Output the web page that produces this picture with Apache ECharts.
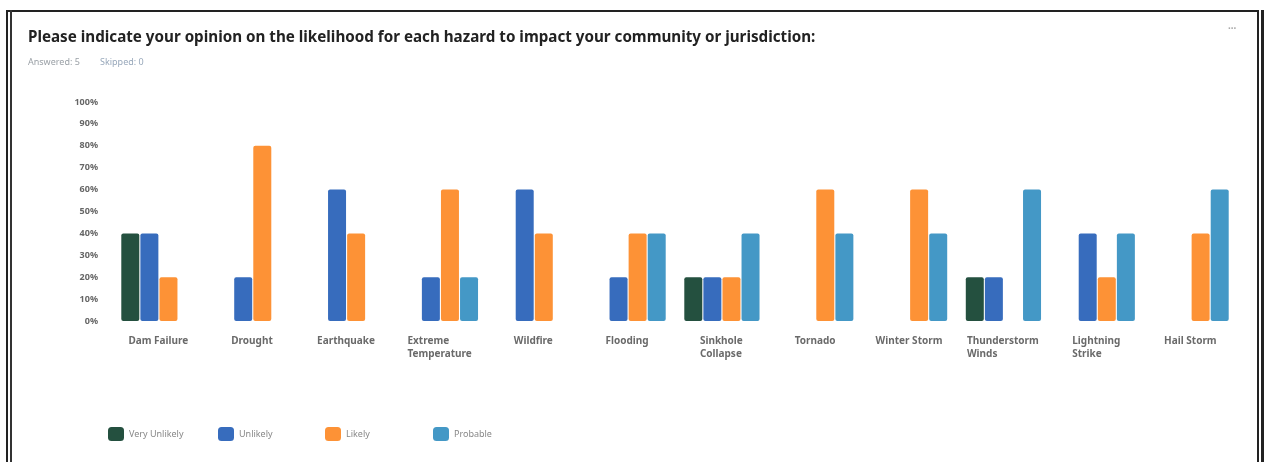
<!DOCTYPE html>
<html>
<head>
<meta charset="utf-8">
<script src="https://cdn.jsdelivr.net/npm/echarts@6/dist/echarts.min.js"></script>
<style>
html,body{margin:0;padding:0;background:#fff;}
#chart{width:1265px;height:462px;}
</style>
</head>
<body>
<div id="chart"></div>
<script>
const titleText = 'Please indicate your opinion on the likelihood for each hazard to impact your community or jurisdiction:';
const answeredText = 'Answered: 5';
const skippedText = 'Skipped: 0';
const categories = ['Dam Failure', 'Drought', 'Earthquake', 'Extreme\nTemperature', 'Wildfire', 'Flooding',
  'Sinkhole\nCollapse', 'Tornado', 'Winter Storm', 'Thunderstorm\nWinds', 'Lightning\nStrike', 'Hail Storm'];
const seriesNames = ['Very Unlikely', 'Unlikely', 'Likely', 'Probable'];
const veryUnlikely = [40, 0, 0, 0, 0, 0, 20, 0, 0, 20, 0, 0];
const unlikely     = [40, 20, 60, 20, 60, 20, 20, 0, 0, 20, 40, 0];
const likely       = [20, 80, 40, 60, 40, 40, 20, 60, 60, 0, 20, 40];
const probable     = [0, 0, 0, 20, 0, 40, 40, 40, 40, 60, 40, 60];
const colors = ['#24503f', '#376cbd', '#fd9236', '#4498c6'];
const yTicks = [0, 10, 20, 30, 40, 50, 60, 70, 80, 90, 100];
const legendLefts = [108, 218, 325, 433];

const labelFont = 'bold 10px "Noto Sans"';
const ctx = document.createElement('canvas').getContext('2d');
ctx.font = labelFont;
const rich = {};
categories.forEach((c, i) => {
  const w = Math.max(...c.split('\n').map(l => ctx.measureText(l).width));
  rich['w' + i] = { width: Math.ceil(w) + 1, align: 'left', fontSize: 10, fontWeight: 'bold', fontFamily: 'Noto Sans', color: '#6a6a6a', lineHeight: 13 };
});

const chart = echarts.init(document.getElementById('chart'), null, { renderer: 'canvas' });
const data = [veryUnlikely, unlikely, likely, probable];
chart.setOption({
  backgroundColor: '#fff',
  animation: false,
  textStyle: { fontFamily: 'Noto Sans' },
  title: [
    { text: titleText, left: 28, top: 30, padding: 0, textStyle: { fontSize: 15.2, fontWeight: 'bold', color: '#222', fontFamily: 'Noto Sans' } },
    { text: answeredText, left: 28, top: 58, padding: 0, textStyle: { fontSize: 9, fontWeight: 'normal', color: '#9aa0a6' } },
    { text: skippedText, left: 100, top: 58, padding: 0, textStyle: { fontSize: 9, fontWeight: 'normal', color: '#98a8bb' } }
  ],
  graphic: [
    { type: 'rect', shape: { x: 6, y: 10, width: 1253, height: 2 }, style: { fill: '#222' } },
    { type: 'rect', shape: { x: 6, y: 10, width: 2, height: 452 }, style: { fill: '#222' } },
    { type: 'rect', shape: { x: 10, y: 10, width: 2, height: 452 }, style: { fill: '#333' } },
    { type: 'rect', shape: { x: 1257, y: 10, width: 2, height: 452 }, style: { fill: '#222' } },
    { type: 'rect', shape: { x: 1261, y: 10, width: 3, height: 452 }, style: { fill: '#222' } },
    { type: 'text', left: 1228, top: 21, style: { text: '...', fontSize: 10, fontWeight: 'bold', fill: '#aaa' } }
  ],
  legend: seriesNames.map((n, k) => ({
    data: [n],
    left: legendLefts[k], top: 427, padding: 0,
    itemWidth: 16, itemHeight: 14,
    icon: 'roundRect',
    textStyle: { fontSize: 9, color: '#888' }
  })),
  grid: { left: 112, right: 27, top: 102, bottom: 141 },
  xAxis: {
    type: 'category', data: categories,
    axisLine: { show: false }, axisTick: { show: false },
    axisLabel: {
      margin: 14, interval: 0,
      formatter: (v, i) => v.split('\n').map(l => '{w' + i + '|' + l + '}').join('\n'),
      rich: rich
    }
  },
  yAxis: {
    type: 'value', min: 0, max: 100, interval: 10,
    axisLine: { show: false }, axisTick: { show: false },
    splitLine: { show: false },
    axisLabel: { margin: 14, fontSize: 9, fontWeight: 'bold', color: '#666', formatter: v => yTicks.includes(v) ? v + '%' : '' }
  },
  series: seriesNames.map((n, k) => ({
    name: n, type: 'bar', data: data[k],
    barWidth: 18, barGap: '6%',
    itemStyle: { color: colors[k], borderRadius: 2 }
  }))
});
</script>
</body>
</html>
